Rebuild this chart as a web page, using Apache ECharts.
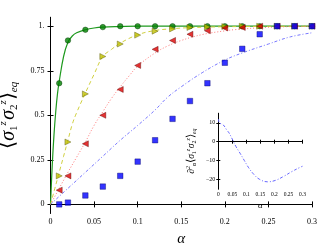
<!DOCTYPE html>
<html><head><meta charset="utf-8">
<script src="https://cdn.jsdelivr.net/npm/echarts@6/dist/echarts.min.js"></script>
<style>html,body{margin:0;padding:0;background:#fff}#c{width:336px;height:252px}</style>
</head><body><div id="c"></div>
<script>
// ---- data ----
const pointAlpha = [0.01,0.02,0.04,0.06,0.08,0.1,0.12,0.14,0.16,0.18,0.2,0.22,0.24,0.26,0.28,0.3];
const greenPts  = [0.68,0.92,0.98,0.995,1,1,1,1,1,1,1,1,1,1,1,1];
const yellowPts = [0.16,0.35,0.62,0.83,0.90,0.95,0.972,0.985,0.993,0.996,0.998,1,1,1,1,1];
const redPts    = [0.08,0.16,0.34,0.50,0.645,0.78,0.87,0.92,0.955,0.975,0.99,0.993,1,1,1,1];
const bluePts   = [0.0,0.01,0.05,0.10,0.16,0.24,0.36,0.48,0.58,0.68,0.795,0.873,0.955,1,1,1];

const greenLineAlpha = [0,0.002,0.004,0.006,0.008,0.01,0.015,0.02,0.025,0.03,0.04,0.05,0.06,0.08,0.1,0.15,0.2,0.25,0.3];
const greenLineVals  = [0,0.22,0.39,0.52,0.62,0.69,0.83,0.91,0.945,0.963,0.98,0.99,0.995,0.998,1,1,1,1,1];
const yellowLineAlpha = [0,0.005,0.01,0.015,0.02,0.025,0.03,0.04,0.05,0.06,0.07,0.08,0.1,0.12,0.14,0.16,0.2,0.25,0.3];
const yellowLineVals  = [0,0.09,0.18,0.27,0.36,0.45,0.515,0.625,0.73,0.83,0.87,0.905,0.952,0.976,0.986,0.992,0.997,0.999,1];
const redLineAlpha = [0,0.01,0.02,0.03,0.04,0.05,0.06,0.07,0.08,0.09,0.1,0.12,0.134,0.15,0.174,0.2,0.212,0.25,0.3];
const redLineVals  = [0,0.09,0.18,0.265,0.35,0.443,0.52,0.595,0.66,0.72,0.776,0.85,0.888,0.92,0.953,0.974,0.981,0.994,1];
const blueLineAlpha = [0,0.02,0.04,0.06,0.08,0.1,0.12,0.134,0.15,0.174,0.2,0.22,0.25,0.275,0.3];
const blueLineVals  = [0,0.09,0.18,0.27,0.36,0.443,0.53,0.6,0.66,0.739,0.81,0.85,0.9,0.94,0.963];

const insetAlpha = [0.001,0.0025,0.018,0.03,0.038,0.05,0.063,0.0775,0.093,0.107,0.125,0.146,0.175,0.2025,0.232,0.262,0.292,0.3];
const insetVals  = [12,10.2,8.8,6.2,4.7,1.3,-2.6,-6.1,-10,-13.5,-17,-19.8,-21.2,-20.5,-18.4,-15.8,-13.5,-13];

const yTicks = [0,0.25,0.5,0.75,1];
const insetYTicks = [-20,-10,0,10];

// ---- build ----
const zip = (a,b) => a.map((x,i)=>[x,b[i]]);
const F = 'Liberation Serif';
const chart = echarts.init(document.getElementById('c'), null, {renderer:'canvas'});

const frame = {show:true, lineStyle:{color:'#000', width:1}};
const mainX = {min:0,max:0.3,interval:0.05,gridIndex:0};
const mainY = {min:-0.05,max:1.05,gridIndex:0};
const insX = {min:0,max:0.3,interval:0.05,gridIndex:1};
const insY = {min:-25,max:15,gridIndex:1};

const mainRich = {
  br:{fontFamily:F,fontSize:21,lineHeight:22,color:'#000'},
  s:{fontFamily:F,fontSize:20,fontStyle:'italic',lineHeight:22,color:'#000'},
  sp:{fontFamily:F,fontSize:11,fontStyle:'italic',lineHeight:12,verticalAlign:'top',color:'#000'},
  sb:{fontFamily:F,fontSize:11,lineHeight:12,verticalAlign:'bottom',color:'#000'},
  e:{fontFamily:F,fontSize:11,fontStyle:'italic',lineHeight:9,verticalAlign:'bottom',color:'#000'},
  g:{fontSize:5}
};
const insRich = {
  br:{fontFamily:F,fontSize:11,lineHeight:12,color:'#000'},
  s:{fontFamily:F,fontSize:9.5,fontStyle:'italic',lineHeight:12,color:'#000'},
  sp:{fontFamily:F,fontSize:6,fontStyle:'italic',lineHeight:7,verticalAlign:'top',color:'#000'},
  sb:{fontFamily:F,fontSize:6,lineHeight:7,verticalAlign:'bottom',color:'#000'},
  e:{fontFamily:F,fontSize:6,fontStyle:'italic',lineHeight:6,verticalAlign:'bottom',color:'#000'},
  g:{fontSize:2}
};

const option = {
  animation:false,
  backgroundColor:'#fff',
  grid:[
    {left:50.5,right:24,top:17.3,bottom:38.7,containLabel:false,outerBoundsMode:'none'},
    {left:218.3,top:113.3,width:84.2,height:75.7,show:true,backgroundColor:'#fff',borderWidth:0,z:5,
      containLabel:false,outerBoundsMode:'none'}
  ],
  xAxis:[
    Object.assign({},mainX,{type:'value',position:'bottom',axisLine:frame,
      axisTick:{inside:true,length:3,lineStyle:{color:'#000'}},
      axisLabel:{fontFamily:F,fontSize:8,color:'#000',margin:5},
      splitLine:{show:false},
      name:'α',nameLocation:'middle',nameGap:16,
      nameTextStyle:{fontFamily:F,fontSize:15,fontStyle:'italic',color:'#000'}}),
    Object.assign({},mainX,{type:'value',position:'top',axisLine:frame,
      axisTick:{inside:true,length:3,lineStyle:{color:'#000'}},
      axisLabel:{show:false},splitLine:{show:false}}),
    Object.assign({},insX,{type:'value',position:'bottom',axisLine:frame,
      axisTick:{inside:true,length:2,lineStyle:{color:'#000'}},
      axisLabel:{fontFamily:F,fontSize:5.5,color:'#000',margin:3,interval:0,hideOverlap:false},
      splitLine:{show:false},
      name:'α',nameLocation:'middle',nameGap:12,
      nameTextStyle:{fontFamily:F,fontSize:9,fontStyle:'italic',color:'#000'},z:6}),
    Object.assign({},insX,{type:'value',position:'top',axisLine:frame,
      axisTick:{inside:true,length:2,lineStyle:{color:'#000'}},
      axisLabel:{show:false},splitLine:{show:false},z:6})
  ],
  yAxis:[
    Object.assign({},mainY,{type:'value',position:'left',axisLine:frame,
      axisTick:{inside:true,length:3,customValues:yTicks,lineStyle:{color:'#000'}},
      axisLabel:{fontFamily:F,fontSize:8,color:'#000',margin:6,customValues:yTicks,
        formatter:v=> v===1 ? '1.' : String(v)},
      splitLine:{show:false},
      name:'{br|⟨}{s|σ}{sb|1}{sp|z}{g| }{s|σ}{sb|2}{sp|z}{br|⟩}{e|eq}',
      nameLocation:'middle',nameRotate:90,nameGap:27,
      nameTextStyle:{rich:mainRich}}),
    Object.assign({},mainY,{type:'value',position:'right',axisLine:frame,
      axisTick:{inside:true,length:3,customValues:yTicks,lineStyle:{color:'#000'}},
      axisLabel:{show:false},splitLine:{show:false}}),
    Object.assign({},insY,{type:'value',position:'left',axisLine:frame,
      axisTick:{inside:true,length:2,customValues:insetYTicks,lineStyle:{color:'#000'}},
      axisLabel:{fontFamily:F,fontSize:6,color:'#000',margin:3,customValues:insetYTicks,
        formatter:v=>String(v).replace('-','−')},
      splitLine:{show:false},
      name:'{s|∂}{sp|2}{sb|α}{br|⟨}{s|σ}{sb|1}{sp|z}{g| }{s|σ}{sb|2}{sp|z}{br|⟩}{e|eq}',
      nameLocation:'middle',nameRotate:90,nameGap:21,
      nameTextStyle:{rich:insRich},z:6}),
    Object.assign({},insY,{type:'value',position:'right',axisLine:frame,
      axisTick:{inside:true,length:2,customValues:insetYTicks,lineStyle:{color:'#000'}},
      axisLabel:{show:false},splitLine:{show:false},z:6})
  ],
  series:[
    {type:'line',xAxisIndex:0,yAxisIndex:0,data:zip(greenLineAlpha,greenLineVals),showSymbol:false,smooth:0.4,
      lineStyle:{color:'#1f9a1f',width:1.2},z:2},
    {type:'line',xAxisIndex:0,yAxisIndex:0,data:zip(yellowLineAlpha,yellowLineVals),showSymbol:false,smooth:0.4,
      lineStyle:{color:'#d0d040',width:1,type:[4,3]},z:2},
    {type:'line',xAxisIndex:0,yAxisIndex:0,data:zip(redLineAlpha,redLineVals),showSymbol:false,smooth:0.4,
      lineStyle:{color:'#ff7777',width:1,type:[1,2]},z:2},
    {type:'line',xAxisIndex:0,yAxisIndex:0,data:zip(blueLineAlpha,blueLineVals),showSymbol:false,smooth:0.4,
      lineStyle:{color:'#7777ff',width:1,type:[3,2,1,2]},z:2},
    {type:'scatter',xAxisIndex:0,yAxisIndex:0,data:zip(pointAlpha,greenPts),symbol:'circle',symbolSize:5.5,
      itemStyle:{color:'#008000',borderColor:'#003300',borderWidth:0.5},z:3},
    {type:'scatter',xAxisIndex:0,yAxisIndex:0,data:zip(pointAlpha,yellowPts),symbol:'triangle',symbolRotate:-90,symbolSize:6,
      itemStyle:{color:'#bfbf00',borderColor:'#4d4d00',borderWidth:0.5},z:3},
    {type:'scatter',xAxisIndex:0,yAxisIndex:0,data:zip(pointAlpha,redPts),symbol:'triangle',symbolRotate:90,symbolSize:6,
      itemStyle:{color:'#dd0000',borderColor:'#550000',borderWidth:0.5},z:3},
    {type:'scatter',xAxisIndex:0,yAxisIndex:0,data:zip(pointAlpha,bluePts),symbol:'rect',symbolSize:5.5,
      itemStyle:{color:'#0000ff',borderColor:'#000066',borderWidth:0.5},z:3},
    {type:'line',xAxisIndex:2,yAxisIndex:2,data:zip(insetAlpha,insetVals),showSymbol:false,smooth:0.4,
      lineStyle:{color:'#6666ff',width:1,type:[3,2,1,2]},z:7}
  ]
};
chart.setOption(option);
</script></body></html>
